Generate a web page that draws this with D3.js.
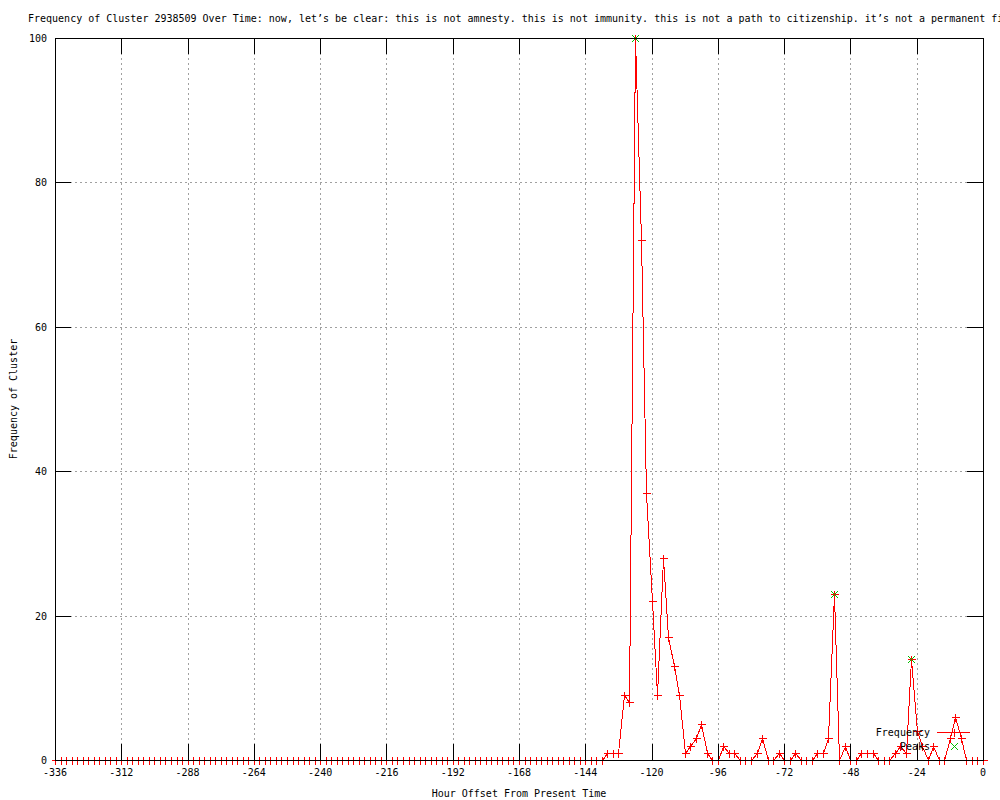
<!DOCTYPE html>
<html>
<head>
<meta charset="utf-8">
<script src="https://cdn.jsdelivr.net/npm/d3@7"></script>
<style>
  body { margin: 0; background: #fff; }
  text { font-family: "DejaVu Sans Mono", monospace; font-size: 10px; fill: #000; }
</style>
</head>
<body>
<div id="chart"></div>
<script>
// Frequency per 2-hour bin, from -336 h up to 0 h
const freq = [
  0, 0, 0, 0, 0, 0, 0, 0, 0, 0,
  0, 0, 0, 0, 0, 0, 0, 0, 0, 0,
  0, 0, 0, 0, 0, 0, 0, 0, 0, 0,
  0, 0, 0, 0, 0, 0, 0, 0, 0, 0,
  0, 0, 0, 0, 0, 0, 0, 0, 0, 0,
  0, 0, 0, 0, 0, 0, 0, 0, 0, 0,
  0, 0, 0, 0, 0, 0, 0, 0, 0, 0,
  0, 0, 0, 0, 0, 0, 0, 0, 0, 0,
  0, 0, 0, 0, 0, 0, 0, 0, 0, 0,
  0, 0, 0, 0, 0, 0, 0, 0, 0, 0,
  1, 1, 1, 9, 8, 100, 72, 37, 22, 9,
  28, 17, 13, 9, 1, 2, 3, 5, 1, 0,
  0, 2, 1, 1, 0, 0, 0, 1, 3, 0,
  0, 1, 0, 0, 1, 0, 0, 0, 1, 1,
  3, 23, 0, 2, 0, 0, 1, 1, 1, 0,
  0, 0, 1, 2, 1, 14, 4, 2, 0, 2,
  0, 0, 3, 6, 3, 0, 0, 0, 0
];
const hours = d3.range(-336, 1, 2); // one bin every 2 hours

const peakHours = [-126, -54, -26];
const peakValues = [100, 23, 14];

const xTicks = [-336, -312, -288, -264, -240, -216, -192, -168, -144, -120, -96, -72, -48, -24, 0];
const yTicks = [0, 20, 40, 60, 80, 100];

const titleText = "Frequency of Cluster 2938509 Over Time: now, let’s be clear: this is not amnesty. this is not immunity. this is not a path to citizenship. it’s not a permanent fix.";

const width = 1000;
const height = 800;
const plot = { left: 55, right: 983, top: 38, bottom: 760 };
const ticLen = 16;

const x = d3.scaleLinear().domain([-336, 0]).range([plot.left, plot.right]);
const y = d3.scaleLinear().domain([0, 100]).range([plot.bottom, plot.top]);

const svg = d3.select("#chart")
  .append("svg")
  .attr("width", width)
  .attr("height", height);

const px = (v) => Math.round(v) + 0.5; // crisp 1px lines

// Grid (behind)
const grid = svg.append("g")
  .attr("stroke", "#a0a0a0")
  .attr("stroke-dasharray", "2,3")
  .attr("shape-rendering", "crispEdges");

grid.selectAll("line.gx")
  .data(xTicks.slice(1, -1))
  .enter().append("line")
  .attr("x1", (d) => px(x(d))).attr("x2", (d) => px(x(d)))
  .attr("y1", plot.top).attr("y2", plot.bottom);

grid.selectAll("line.gy")
  .data(yTicks.slice(1, -1))
  .enter().append("line")
  .attr("x1", plot.left).attr("x2", plot.right)
  .attr("y1", (d) => px(y(d))).attr("y2", (d) => px(y(d)));

// Frequency line + points
const data = hours.map((h, i) => ({ h: h, v: freq[i] }));

const line = d3.line()
  .x((d) => px(x(d.h)))
  .y((d) => px(y(d.v)));

svg.append("path")
  .datum(data)
  .attr("fill", "none")
  .attr("stroke", "#ff0000")
  .attr("stroke-width", 1)
  .attr("shape-rendering", "crispEdges")
  .attr("d", line);

function plus(cx, cy, r) {
  return `M${cx - r},${cy}H${cx + r}M${cx},${cy - r}V${cy + r}`;
}
function cross(cx, cy, r) {
  return `M${cx - r},${cy - r}L${cx + r},${cy + r}M${cx - r},${cy + r}L${cx + r},${cy - r}`;
}

svg.append("g")
  .attr("stroke", "#ff0000")
  .attr("shape-rendering", "crispEdges")
  .selectAll("path")
  .data(data)
  .enter().append("path")
  .attr("d", (d) => plus(px(x(d.h)), px(y(d.v)), 4));

// Peaks
svg.append("g")
  .attr("stroke", "#00c000")
  .selectAll("path")
  .data(peakHours.map((h, i) => ({ h: h, v: peakValues[i] })))
  .enter().append("path")
  .attr("d", (d) => cross(px(x(d.h)), px(y(d.v)), 3.5));

// Border and tics (front)
const axes = svg.append("g")
  .attr("stroke", "#000")
  .attr("fill", "none")
  .attr("shape-rendering", "crispEdges");

axes.append("rect")
  .attr("x", px(plot.left))
  .attr("y", px(plot.top))
  .attr("width", plot.right - plot.left)
  .attr("height", plot.bottom - plot.top);

xTicks.forEach((t) => {
  const xx = px(x(t));
  axes.append("line").attr("x1", xx).attr("x2", xx)
    .attr("y1", plot.bottom).attr("y2", plot.bottom - ticLen);
  axes.append("line").attr("x1", xx).attr("x2", xx)
    .attr("y1", plot.top).attr("y2", plot.top + ticLen);
});
yTicks.forEach((t) => {
  const yy = px(y(t));
  axes.append("line").attr("y1", yy).attr("y2", yy)
    .attr("x1", plot.left).attr("x2", plot.left + ticLen);
  axes.append("line").attr("y1", yy).attr("y2", yy)
    .attr("x1", plot.right).attr("x2", plot.right - ticLen);
});

// Tick labels
svg.append("g").selectAll("text")
  .data(xTicks)
  .enter().append("text")
  .attr("x", (d) => x(d))
  .attr("y", plot.bottom + 16)
  .attr("text-anchor", "middle")
  .text((d) => d);

svg.append("g").selectAll("text")
  .data(yTicks)
  .enter().append("text")
  .attr("x", plot.left - 8)
  .attr("y", (d) => y(d) + 4)
  .attr("text-anchor", "end")
  .text((d) => d);

// Title and axis labels
svg.append("text")
  .attr("x", 28)
  .attr("y", 22)
  .text(titleText);

svg.append("text")
  .attr("x", (plot.left + plot.right) / 2)
  .attr("y", 797)
  .attr("text-anchor", "middle")
  .text("Hour Offset From Present Time");

svg.append("text")
  .attr("transform", `translate(17, ${(plot.top + plot.bottom) / 2}) rotate(-90)`)
  .attr("text-anchor", "middle")
  .text("Frequency of Cluster");

// Legend
const key = { textX: 930, sampleX1: 937, sampleX2: 970, rowY: [732, 746] };
const sampleMid = (key.sampleX1 + key.sampleX2) / 2;

svg.append("text")
  .attr("x", key.textX).attr("y", key.rowY[0] + 4)
  .attr("text-anchor", "end")
  .text("Frequency");
svg.append("line")
  .attr("x1", key.sampleX1).attr("x2", key.sampleX2)
  .attr("y1", px(key.rowY[0])).attr("y2", px(key.rowY[0]))
  .attr("stroke", "#ff0000")
  .attr("shape-rendering", "crispEdges");
svg.append("path")
  .attr("d", plus(px(sampleMid), px(key.rowY[0]), 4))
  .attr("stroke", "#ff0000")
  .attr("shape-rendering", "crispEdges");

svg.append("text")
  .attr("x", key.textX).attr("y", key.rowY[1] + 4)
  .attr("text-anchor", "end")
  .text("Peaks");
svg.append("path")
  .attr("d", cross(px(sampleMid), px(key.rowY[1]), 3.5))
  .attr("stroke", "#00c000");
</script>
</body>
</html>
